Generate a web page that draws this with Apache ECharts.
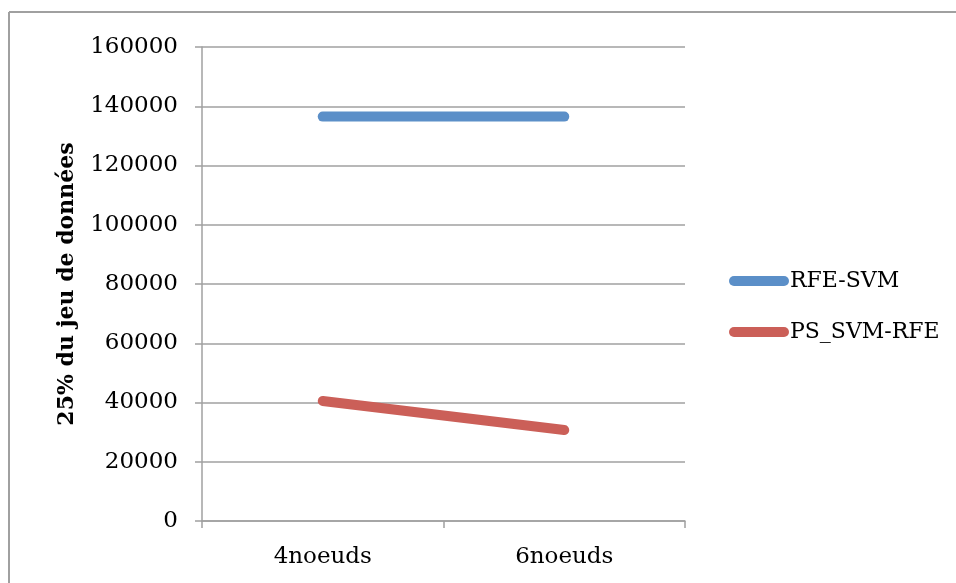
<!DOCTYPE html>
<html>
<head>
<meta charset="utf-8">
<script src="https://cdn.jsdelivr.net/npm/echarts@6/dist/echarts.min.js"></script>
<style>
html,body{margin:0;padding:0;background:#fff;overflow:hidden;}
#c{width:956px;height:583px;}
</style>
</head>
<body>
<div id="c"></div>
<script>
const categories = ['4noeuds', '6noeuds'];
const rfeSvm = [136500, 136500];
const psSvmRfe = [40500, 30700];
const seriesNames = ['RFE-SVM', 'PS_SVM-RFE'];
const yAxisTitle = '25% du jeu de données';

const FONT = 'DejaVu Serif';
const chart = echarts.init(document.getElementById('c'));
const pill = 'path://M5,0 H55 A5,5 0 0 1 55,10 H5 A5,5 0 0 1 5,0 Z';
chart.setOption({
  animation: false,
  backgroundColor: '#fff',
  graphic: [
    { type: 'line', shape: { x1: 9, y1: 12, x2: 1200, y2: 12 },
      style: { stroke: '#a0a0a0', lineWidth: 2 }, z: -1 },
    { type: 'line', shape: { x1: 9, y1: 12, x2: 9, y2: 900 },
      style: { stroke: '#a0a0a0', lineWidth: 2 }, z: -1 }
  ],
  grid: { left: 202, right: 271, top: 47, bottom: 62 },
  legend: {
    orient: 'vertical', left: 724, top: 265,
    itemWidth: 60, itemHeight: 10, itemGap: 29,
    icon: pill,
    textStyle: { fontFamily: FONT, fontSize: 22, color: '#000', padding: [0,0,0,-4] },
    data: seriesNames
  },
  xAxis: {
    type: 'category', data: categories, boundaryGap: true,
    axisLine: { lineStyle: { color: '#a0a0a0', width: 1.5 } },
    axisTick: { show: true, length: 7, inside: false, lineStyle: { color: '#a0a0a0', width: 1.5 } },
    axisLabel: { fontFamily: FONT, fontSize: 23, color: '#000', margin: 25 }
  },
  yAxis: {
    type: 'value', min: 0, max: 160000, interval: 20000,
    name: yAxisTitle, nameLocation: 'middle', nameGap: 124, nameRotate: 90,
    nameTextStyle: { fontFamily: FONT, fontSize: 22, fontWeight: 'bold', color: '#000' },
    axisLine: { show: true, lineStyle: { color: '#a0a0a0', width: 1.5 } },
    axisTick: { show: true, length: 7, lineStyle: { color: '#a0a0a0', width: 1.5 } },
    axisLabel: { fontFamily: FONT, fontSize: 23, color: '#000', margin: 24,
      formatter: function (v) { return String(v); } },
    splitLine: { lineStyle: { color: '#a0a0a0', width: 1.5 } }
  },
  series: [
    { name: seriesNames[0], type: 'line', data: rfeSvm, symbol: 'none', color: '#5B8FC8',
      lineStyle: { width: 10, cap: 'round', color: '#5B8FC8' } },
    { name: seriesNames[1], type: 'line', data: psSvmRfe, symbol: 'none', color: '#CB5F58',
      lineStyle: { width: 10, cap: 'round', color: '#CB5F58' } }
  ]
});
</script>
</body>
</html>
